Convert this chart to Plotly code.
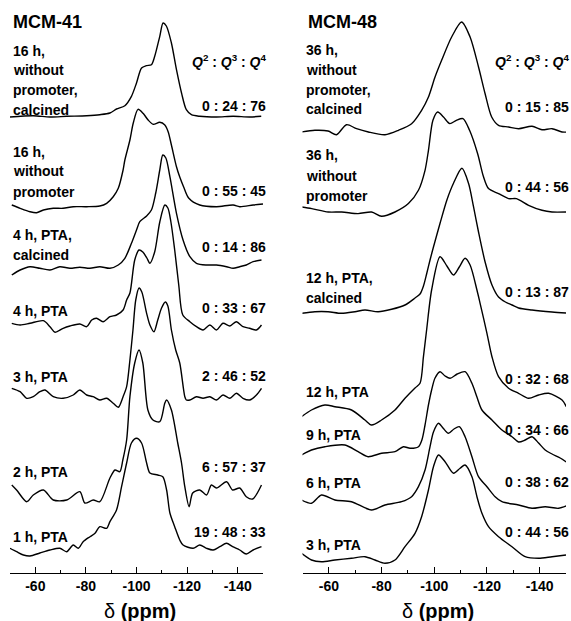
import plotly.graph_objects as go

# ---------------- data (chemical shift in ppm, intensity in a.u.) ----------------
# MCM-41 panel
ppm_41_16h_calc = [-50, -59.2, -65.8, -72.4, -80.3, -85.5, -89.5, -92.1, -95.4, -98, -100, -102, -103.9, -105.9,
                   -107.2, -109.2, -110.5, -111.8, -113.8, -115.8, -117.8, -119.7, -121.7, -125, -131.6, -138.2,
                   -144.7, -149.3]
int_41_16h_calc = [0, 1.3, 0, 0.7, 1.3, 2.3, 4, 8, 11.3, 20.7, 34, 49, 51.3, 52.3, 60.7, 80.7, 94, 91, 74, 47.3, 24,
                   7.3, 2.3, 0.7, 0, 0.7, 0, 0.7]

ppm_41_16h = [-50.7, -54, -57.9, -60.5, -63.2, -67.1, -71, -75, -80.3, -85.5, -88.2, -90.8, -92.8, -94.7, -95.4,
              -97.4, -98.7, -100.6, -102.6, -104.6, -106.6, -109.2, -111.2, -112.5, -113.8, -115.8, -117.1, -118.6,
              -120.6, -125, -131.6, -138.2, -140.8, -146.1, -150]
int_41_16h = [2, -1.3, -4.7, -5.7, -3, -1.3, -1.3, 0.3, 0.3, 1, 3.7, 10.3, 18.7, 37, 47, 67, 83.7, 97.7, 93.7, 87,
              82.7, 84.7, 82, 75.3, 62, 40.3, 30, 20.3, 9, 2, 0.3, 2, 0.3, 2, 3]

ppm_41_4h_calc = [-50.7, -54, -57.9, -61.8, -65.8, -69.7, -73.7, -77.6, -81.6, -85.5, -89.5, -92.8, -95.4, -98,
                  -100, -101.3, -104, -105.9, -107.6, -109.2, -110.4, -111.6, -113.2, -115.8, -118.4, -121.1, -123.7,
                  -127.7, -131.6, -135.6, -138.2, -140.8, -143.4, -146.1, -149.4]
int_41_4h_calc = [-7, -2, 1.3, -0.3, -2, 1.3, -0.3, 0.7, -0.3, 1.3, -0.3, 3, 9.7, 24.7, 38, 46.3, 52, 58, 75, 98,
                  113, 110, 91.3, 54.7, 28, 11.3, 4.7, 3, 3, 1.3, -0.3, 1.3, 3, 6.3, 8]

ppm_41_4h = [-50.7, -54, -57.9, -63.2, -65.8, -67.8, -71, -73.7, -77.6, -80.3, -82.3, -84.2, -86.8, -89.5, -92.1,
             -94.7, -96.1, -97.4, -99.3, -101, -102.5, -104.1, -105.3, -107.2, -109.2, -111.2, -112.4, -113.6,
             -115.1, -116.7, -118.3, -121.1, -123.7, -126.3, -129, -131.6, -134.2, -136.9, -139.5, -142.1, -144.7,
             -147.4, -149.4]
int_41_4h = [1.7, 0, 1.7, 4.3, -1.7, -7.3, -3.3, -1, 1, -1.7, 5, 6.7, 3.3, 8.3, 10, 15, 25, 32, 65, 75, 73, 67,
             61.7, 73.3, 103, 120, 117, 103, 75, 40, 10, 3.3, -1.7, -5, 0, -5, 1.7, -1, 3.3, -1.7, -3.3, -5, 0]

ppm_41_3h = [-50.7, -54, -56.6, -59.2, -61.8, -63.8, -67.1, -71, -75, -77.6, -80.3, -82.9, -85.5, -88.2, -90.8,
             -92.8, -94.7, -96.1, -97.4, -98.6, -99.7, -101, -102.1, -104, -105.3, -106.9, -108.4, -109.9, -111.4,
             -112.4, -113.8, -115.5, -117.1, -119.1, -119.7, -121.1, -123.7, -126.3, -129, -131.6, -134.2, -136.9,
             -139.5, -142.1, -144.7, -147.4, -149.4]
int_41_3h = [7.7, 4.3, -2.3, -0.7, 4.3, 6, -0.7, -2.3, 1, 6, 1, -0.7, -4, -2.3, -7.3, -11.3, -0.7, 9.3, 36, 66, 96,
             108, 104, 82.7, 71, 64.3, 76, 88, 94, 90, 66, 46, 33, -0.7, -4, -4, -0.7, -2.3, -0.7, -4, 1, -2.3, 2.7,
             -2.3, -4, 1, 7.7]

ppm_41_2h = [-50.7, -52.6, -56.6, -59.2, -63.2, -67.1, -72.4, -77.6, -79.6, -82.9, -85.5, -89.5, -91.5, -93.4,
             -94.6, -96.1, -97.4, -99.3, -101, -102.5, -104.5, -106.5, -109.2, -111.2, -111.9, -113.8, -116.3,
             -117.8, -119.1, -120.8, -122.2, -125, -127.7, -129.6, -131.6, -135.6, -138, -140.8, -143.4, -145.9,
             -149.4]
int_41_2h = [5, 0, -11.7, -5, 0, -10, -10, -1.7, -13, -10, -11.7, 12, 20, 18.3, 30, 50, 93.3, 127, 140, 127, 80, 70,
             68.3, 87, 90, 80, 47, 27, 3.3, -16.7, -3, 0, -5, 5, 2, 8.3, 0, 2, -6.7, -9, 5]

ppm_41_1h = [-50, -52.6, -55.3, -57.9, -61.8, -65.8, -69.7, -72.4, -75, -77, -78.9, -81.6, -83.6, -85.5, -88.2,
             -89.5, -92.1, -94.1, -96.1, -98, -100, -102, -104, -105.3, -108.4, -110.4, -111.9, -113.2, -115.1,
             -117.1, -118.4, -122.4, -125, -127.7, -130.3, -132.9, -135.6, -138, -140.8, -143.4, -146.1, -149.4]
int_41_1h = [1.7, -1.7, -5, -6, -3, 0, 1.7, -1.7, 5, 1.7, 8.3, 13.3, 16.7, 23.3, 21.7, 28.3, 40, 63.3, 87, 107,
             111.7, 107, 87, 77, 75, 73.3, 60, 37, 23.3, 10, 5, 1.7, 5, 1.7, 0, 3.3, 6.7, 3.3, 0, -4, 0, 3.3]

# MCM-48 panel
ppm_48_36h_calc = [-49.6, -54.7, -59.7, -62.9, -66.7, -70.5, -75, -81.3, -86.4, -91.4, -95.2, -97.8, -100.3, -102.8,
                   -106.6, -110.4, -113.6, -116.8, -119.3, -121.8, -124.4, -128.2, -132, -137.1, -140.9, -144.7,
                   -148.5, -150.5]
int_48_36h_calc = [0, 1.7, 1, -2.7, 7.3, 3.3, 0, -2.7, 1.7, 8.3, 21.7, 35, 55, 71.7, 95, 110, 95, 65, 38.3, 15, 6.7,
                   5, 3.3, 5.7, 2.3, 3.3, 0, 0]

ppm_48_36h = [-49.7, -53.5, -59.8, -64.9, -71.1, -76.2, -80, -85.1, -90.2, -94, -96.5, -97.8, -99.5, -101.3, -103.5,
              -105.9, -108.4, -110.9, -113.4, -116.5, -118.6, -120.6, -124.4, -128.2, -131.2, -135.8, -140.9, -144.7,
              -150]
int_48_36h = [5, 3.4, 0, 0, -1.6, 0, -4.3, 0, 8.4, 21.7, 41.7, 61.7, 91.7, 100, 95, 88.4, 91.7, 93.4, 81.7, 58, 36,
              23.4, 18.4, 13.4, 13.4, 6.7, 1.7, 0, 0]

ppm_48_12h_calc = [-49.6, -54.7, -59.7, -64.8, -69.9, -73.7, -78.7, -83.8, -88.9, -92.7, -94.6, -95.9, -97.1, -98.4,
                   -99.7, -102.2, -104.8, -107.3, -110.5, -113, -114.9, -116.8, -119.3, -121.9, -124.4, -127, -129.5,
                   -132, -137.1, -144.7, -150]
int_48_12h_calc = [-1.3, 0.3, 0.3, -1.3, 0.3, 2, 0.3, 2.7, 7, 14, 18, 26, 38, 52, 65, 88.7, 112, 128.7, 143.7, 128.7,
                   105.3, 80, 50, 27, 15, 10, 7, 4, 2, 0, -1]

ppm_48_12h = [-49.6, -53.4, -58.5, -62.3, -68.6, -73.7, -76.2, -80, -85.1, -88.9, -92.7, -94.6, -95.9, -97.1, -99,
              -102.2, -104.8, -107.3, -109.5, -111.7, -113.6, -116.2, -117.4, -120, -121.9, -124.4, -128.2, -132,
              -135.8, -139.6, -143.4, -148.5, -150.1]
int_48_12h = [-4.7, 2, 7, 5.3, 2, -8, -13, -8, 2, 13.7, 24, 28.7, 55.3, 82, 122, 155.3, 146, 137, 145, 153.7, 147,
              122, 108.7, 78.7, 55.3, 35.3, 23.7, 18.7, 13.7, 17, 18.7, 12, 5.3]

ppm_48_9h = [-49.6, -53.4, -58.5, -66.1, -71.1, -74.9, -80, -85.1, -88.3, -90.8, -94, -95.3, -96.5, -97.8, -99,
             -100.3, -102.2, -104.1, -106, -108.7, -111.7, -114.3, -116.2, -118.1, -121.9, -125.7, -129.5, -132,
             -134.5, -137.1, -139.6, -142.1, -144.7, -147.8, -150.1]
int_48_9h = [-2, 3, 6.3, 8, 1.3, -3.7, -0.3, 1.3, 6.3, 4.7, 6.3, 13, 28, 48, 63, 75, 81.3, 77, 74.7, 79, 81.3, 69.7,
             56, 43, 33, 23, 16.3, 11, 13, 16.3, 10, 3, -1, -5, -9]

ppm_48_6h = [-49.6, -53.4, -57.2, -62.3, -68.6, -76.2, -81.3, -87.6, -91.4, -94, -96.5, -98.4, -99.7, -101.6, -103.3,
             -105.4, -107.5, -109.5, -111.7, -114.3, -116.8, -120, -123.1, -125.7, -132, -137.1, -142.1, -147.2, -151]
int_48_6h = [0, -3.3, 5, 0, -1.7, -10, -5, -1.7, 3.3, 13.3, 30, 53.3, 68, 76.7, 72, 66.7, 71, 73.3, 63.3, 43.3, 23.3,
             13.3, 3.3, -1.7, -5, -8.3, -6.7, -8.3, -5]

ppm_48_3h = [-49.6, -53.4, -57.2, -62.3, -68.6, -73.7, -77.5, -81.3, -85.1, -88.9, -92.7, -95.2, -97.8, -99.7, -101.6,
             -104.1, -107.3, -109.8, -111.7, -114.3, -116.2, -118.1, -120.6, -124.4, -129.5, -134.5, -139.6, -144.7,
             -150]
int_48_3h = [6.7, 0, -1.7, 0, 1.7, 3.3, 0, -3.3, 0, 13.3, 26.7, 43.3, 70, 93.3, 105, 98.3, 86.7, 91.7, 95, 83.3,
             63.3, 46.7, 33.3, 23.3, 13.3, 3.3, 1.7, 3.3, 5]

# stacking offsets (a.u.)
offsets_41 = [456, 366, 305, 248, 177, 83, 23]
offsets_48 = [441, 361, 261, 161, 120, 73, 13]

names_41 = [["16 h,", "without", "promoter,", "calcined"], ["16 h,", "without", "promoter"],
            ["4 h, PTA,", "calcined"], ["4 h, PTA"], ["3 h, PTA"], ["2 h, PTA"], ["1 h, PTA"]]
names_48 = [["36 h,", "without", "promoter,", "calcined"], ["36 h,", "without", "promoter"],
            ["12 h, PTA,", "calcined"], ["12 h, PTA"], ["9 h, PTA"], ["6 h, PTA"], ["3 h, PTA"]]
ratios_41 = ["0 : 24 : 76", "0 : 55 : 45", "0 : 14 : 86", "0 : 33 : 67", "2 : 46 : 52", "6 : 57 : 37",
             "19 : 48 : 33"]
ratios_48 = ["0 : 15 : 85", "0 : 44 : 56", "0 : 13 : 87", "0 : 32 : 68", "0 : 34 : 66", "0 : 38 : 62",
             "0 : 44 : 56"]
tick_vals = [-60, -80, -100, -120, -140]
tick_text = ["-60", "-80", "-100", "-120", "-140"]

series_41 = [(ppm_41_16h_calc, int_41_16h_calc), (ppm_41_16h, int_41_16h), (ppm_41_4h_calc, int_41_4h_calc),
             (ppm_41_4h, int_41_4h), (ppm_41_3h, int_41_3h), (ppm_41_2h, int_41_2h), (ppm_41_1h, int_41_1h)]
series_48 = [(ppm_48_36h_calc, int_48_36h_calc), (ppm_48_36h, int_48_36h), (ppm_48_12h_calc, int_48_12h_calc),
             (ppm_48_12h, int_48_12h), (ppm_48_9h, int_48_9h), (ppm_48_6h, int_48_6h), (ppm_48_3h, int_48_3h)]

# ---------------- layout geometry (pixels) ----------------
W, H = 571, 621
PH = 573  # plot-area height (axis line position)
FONT = "Liberation Sans, Arial, sans-serif"


def xp(px):
    return px / W


def yp(py):
    return 1 - py / PH


fig = go.Figure()
line = dict(color="black", width=1.4, shape="spline", smoothing=0.8)
for (x, y), off in zip(series_41, offsets_41):
    fig.add_trace(go.Scatter(x=x, y=[v + off for v in y], mode="lines", line=line, xaxis="x", yaxis="y",
                             showlegend=False, hoverinfo="skip"))
for (x, y), off in zip(series_48, offsets_48):
    fig.add_trace(go.Scatter(x=x, y=[v + off for v in y], mode="lines", line=line, xaxis="x2", yaxis="y",
                             showlegend=False, hoverinfo="skip"))

axis_common = dict(range=[-50, -150], showline=True, linecolor="black", linewidth=1, ticks="inside", ticklen=6,
                   tickwidth=1, tickcolor="black", tickmode="array", tickvals=tick_vals, ticktext=tick_text,
                   showgrid=False, zeroline=False, anchor="y",
                   tickfont=dict(family=FONT, size=14, color="black", weight="bold"),
                   minor=dict(tickmode="array", tickvals=[-50, -70, -90, -110, -130, -150], ticks="inside",
                              ticklen=3, tickwidth=1, tickcolor="black", showgrid=False))
fig.update_layout(
    width=W, height=H, margin=dict(l=0, r=0, t=0, b=H - PH), paper_bgcolor="white", plot_bgcolor="white",
    xaxis=dict(domain=[xp(10), xp(263)], **axis_common),
    xaxis2=dict(domain=[xp(302.5), xp(566)], **axis_common),
    yaxis=dict(range=[0, PH], domain=[0, 1], visible=False, fixedrange=True),
)

ann = []


def text(t, px, py, size=14, anchor="left"):
    ann.append(dict(text=t, x=xp(px), y=yp(py), xref="paper", yref="paper", xanchor=anchor, yanchor="middle",
                    showarrow=False, font=dict(family=FONT, size=size, color="black")))


# titles
text("<b>MCM-41</b>", 11, 22, 18)
text("<b>MCM-48</b>", 306, 22, 18)

# sample names
name_y_41 = [[50.7, 70, 90, 110], [151.5, 171, 191.5], [235, 255], [310.7], [376.7], [471.7], [536.7]]
name_y_48 = [[50, 70, 90, 109], [155, 176, 196.5], [278.3, 298.3], [391.7], [435], [483.3], [545]]
for lines, ys in zip(names_41, name_y_41):
    for t, py in zip(lines, ys):
        text("<b>%s</b>" % t, 11, py)
for lines, ys in zip(names_48, name_y_48):
    for t, py in zip(lines, ys):
        text("<b>%s</b>" % t, 304, py)

# ratios
qhead = "<b><i>Q</i><sup>2</sup> : <i>Q</i><sup>3</sup> : <i>Q</i><sup>4</sup></b>"
text(qhead, 267.5, 61, 14, "right")
text(qhead, 571, 61, 14, "right")
ratio_y_41 = [106, 190.7, 247.3, 308.3, 376, 467.3, 531.7]
ratio_y_48 = [107.3, 186.7, 291.7, 379, 430, 481.7, 531.7]
for t, py in zip(ratios_41, ratio_y_41):
    text("<b>%s</b>" % t, 267.5, py, 14, "right")
for t, py in zip(ratios_48, ratio_y_48):
    text("<b>%s</b>" % t, 571, py, 14, "right")

# axis titles
xlabel = "δ <b>(ppm)</b>"
text(xlabel, 140, 611, 20, "center")
text(xlabel, 438, 611, 20, "center")

fig.update_layout(annotations=ann)
fig.write_html("out.html", config={"displayModeBar": False},
               post_script="document.body.style.margin='0';document.body.style.overflow='hidden';")
